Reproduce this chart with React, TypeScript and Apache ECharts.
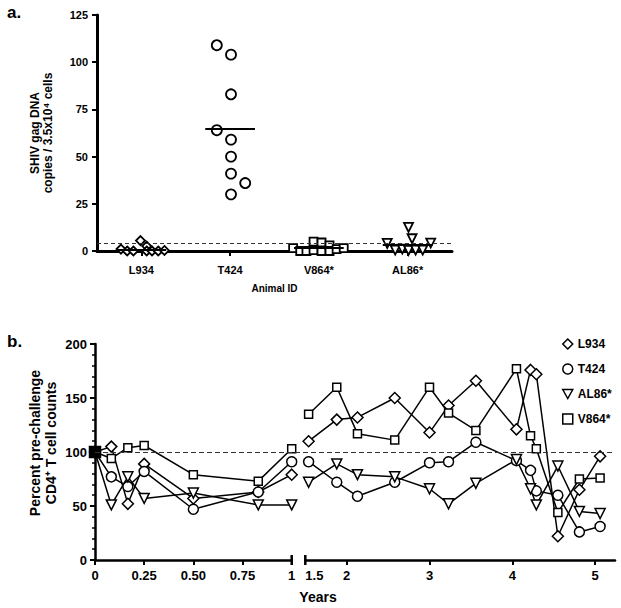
import React, { useEffect, useRef } from 'react';
import * as echarts from 'echarts';

const FONT = '"Liberation Sans", Arial, Helvetica, sans-serif';

// ---------- Panel a: SHIV gag DNA per animal ----------
const animalIds = ['L934', 'T424', 'V864*', 'AL86*'];
const l934Jitter = [-0.23, -0.16, -0.09, -0.01, 0.06, 0.06, 0.12, 0.19, 0.26];
const l934Dna = [1, 0, 0, 5.5, 2.6, 0, 0, 0, 0.3];
const t424Jitter = [-0.15, 0.01, 0.01, -0.15, 0.01, 0.01, 0.01, 0.17, 0.01];
const t424Dna = [109, 104, 83, 64, 59, 50, 41, 36, 30];
const v864Jitter = [-0.29, -0.21, -0.14, -0.06, -0.06, 0.03, 0.03, 0.12, 0.12, 0.2, 0.28];
const v864Dna = [1.5, 0, 0, 5, 0.5, 4.5, 0, 3, 0, 1, 1.5];
const al86Jitter = [-0.23, -0.14, -0.06, 0.01, 0.05, 0.01, 0.09, 0.17, 0.26];
const al86Dna = [4, 0.5, 1, 12.5, 6.5, 0.3, 0.5, 0.5, 4.2];
const groupMeans = [0.8, 65, 1.5, 3.4];
const dnaCutoff = 4;

// ---------- Panel b: CD4 counts over time ----------
const earlyYears = [0, 0.083, 0.167, 0.25, 0.5, 0.83, 1];
const lateYears = [1.54, 1.88, 2.13, 2.58, 3.0, 3.23, 3.56, 4.05, 4.22, 4.29, 4.55, 4.81, 5.06];
const l934Early = [100, 105, 52, 89, 57, 63, 79];
const l934Late = [110, 130, 132, 150, 118, 143, 166, 121, 176, 172, 22, 65, 96];
const t424Early = [100, 77, 68, 82, 47, 63, 91];
const t424Late = [91, 72, 59, 72, 90, 91, 109, 92, 83, 64, 60, 26, 31];
const al86Early = [100, 51, 77, 57, 62, 51, 51];
const al86Late = [72, 89, 79, 77, 66, 52, 71, 93, 66, 51, 87, 45, 43];
const v864Early = [100, 94, 104, 106, 79, 73, 103];
const v864Late = [135, 160, 117, 111, 160, 136, 120, 177, 115, 103, 44, 75, 76];
const earlyTickValues = [0, 0.25, 0.5, 0.75, 1];
const lateLabelValues = [1.5, 2, 3, 4, 5];
const lateTickValues = [2, 3, 4, 5];
const baselinePercent = 100;

const TRI_DOWN = 'path://M0,0L10,0L5,9Z';

const App: React.FC = () => {
  const ref = useRef<HTMLDivElement>(null);

  useEffect(() => {
    if (!ref.current) return;
    const chart = echarts.init(ref.current, undefined, { renderer: 'svg' });

    const axisLineA = { show: true, onZero: false, lineStyle: { color: '#000', width: 3 } };
    const axisLineB = { show: true, onZero: false, lineStyle: { color: '#000', width: 2.5 } };
    const labelA = { color: '#000', fontFamily: FONT, fontWeight: 'bold' as const, fontSize: 11 };
    const labelB = { color: '#000', fontFamily: FONT, fontWeight: 'bold' as const, fontSize: 13 };
    const hollow = (w: number) => ({ color: '#fff', borderColor: '#000', borderWidth: w, opacity: 1 });

    const groupsA = [
      { jit: l934Jitter, val: l934Dna, symbol: 'diamond', size: 9 },
      { jit: t424Jitter, val: t424Dna, symbol: 'circle', size: 10 },
      { jit: v864Jitter, val: v864Dna, symbol: 'rect', size: 8 },
      { jit: al86Jitter, val: al86Dna, symbol: TRI_DOWN, size: 9 },
    ];

    const seriesA: any[] = groupsA.map((g, gi) => ({
      type: 'scatter',
      name: 'a-' + animalIds[gi],
      xAxisIndex: 0,
      yAxisIndex: 0,
      clip: false,
      symbol: g.symbol,
      symbolSize: g.size,
      itemStyle: hollow(1.8),
      data: g.val.map((v, i) => [gi + 1 + g.jit[i], v]),
      markLine: {
        silent: true,
        symbol: 'none',
        label: { show: false },
        data: [
          ...(gi === 0
            ? [{ yAxis: dnaCutoff, lineStyle: { type: [4, 3], color: '#333', width: 1 } }]
            : []),
          [
            { coord: [gi + 1 - 0.28, groupMeans[gi]], lineStyle: { type: 'solid', color: '#000', width: 1.8 } },
            { coord: [gi + 1 + 0.28, groupMeans[gi]] },
          ],
        ],
      },
    }));

    const animalsB = [
      { name: 'L934', symbol: 'diamond', size: 11, early: l934Early, late: l934Late },
      { name: 'T424', symbol: 'circle', size: 10, early: t424Early, late: t424Late },
      { name: 'AL86*', symbol: TRI_DOWN, size: 10, early: al86Early, late: al86Late },
      { name: 'V864*', symbol: 'rect', size: 8, early: v864Early, late: v864Late },
    ];

    const seriesB: any[] = [];
    animalsB.forEach((a, ai) => {
      [
        { axis: 1, years: earlyYears, vals: a.early },
        { axis: 2, years: lateYears, vals: a.late },
      ].forEach((seg) => {
        const isLastEarly = ai === animalsB.length - 1 && seg.axis === 1;
        const s: any = {
          type: 'line',
          name: a.name,
          xAxisIndex: seg.axis,
          yAxisIndex: seg.axis,
          clip: false,
          symbol: a.symbol,
          symbolSize: a.size,
          showAllSymbol: true,
          lineStyle: { color: '#000', width: 1.5 },
          itemStyle: hollow(1.5),
          data: seg.years.map((y, i) =>
            isLastEarly && i === 0
              ? { value: [y, seg.vals[i]], symbolSize: 11, itemStyle: { color: '#000' } }
              : [y, seg.vals[i]]
          ),
        };
        if (ai === 0) {
          s.markPoint = {
            silent: true,
            symbol: 'rect',
            symbolSize: [2.5, 10],
            itemStyle: { color: '#000' },
            label: { show: false },
            data: [{ coord: seg.axis === 1 ? [1, 0] : [1.5, 0] }],
          };
        }
        seriesB.push(s);
      });
    });

    const option: any = {
      animation: false,
      backgroundColor: '#fff',
      textStyle: { fontFamily: FONT },
      grid: [
        { left: 97, top: 15, width: 355, height: 236 },
        { left: 95, top: 344, width: 196.7, height: 216 },
        { left: 305.3, top: 344, width: 309.7, height: 216 },
        { left: 95, top: 344, width: 520, height: 216 },
      ],
      xAxis: [
        {
          type: 'value',
          gridIndex: 0,
          min: 0.5,
          max: 4.5,
          splitLine: { show: false },
          axisLine: axisLineA,
          axisTick: { show: true, customValues: [1, 2, 3, 4], length: 5, lineStyle: { width: 2, color: '#000' } },
          axisLabel: {
            ...labelA,
            margin: 13,
            customValues: [1, 2, 3, 4],
            formatter: (v: number) => animalIds[Math.round(v) - 1] ?? '',
          },
          name: 'Animal ID',
          nameLocation: 'middle',
          nameGap: 32,
          nameTextStyle: { color: '#000', fontFamily: FONT, fontWeight: 'bold', fontSize: 10 },
        },
        {
          type: 'value',
          gridIndex: 1,
          min: 0,
          max: 1,
          splitLine: { show: false },
          axisLine: axisLineB,
          axisTick: { show: true, customValues: earlyTickValues, length: 5, lineStyle: { width: 2, color: '#000' } },
          axisLabel: {
            ...labelB,
            margin: 9,
            customValues: earlyTickValues,
            formatter: (v: number) => (v === 0 ? '0' : v === 1 ? '1' : v.toFixed(2)),
          },
        },
        {
          type: 'value',
          gridIndex: 2,
          min: 1.5,
          max: 5.24,
          splitLine: { show: false },
          axisLine: axisLineB,
          axisTick: { show: true, customValues: lateTickValues, length: 5, lineStyle: { width: 2, color: '#000' } },
          axisLabel: {
            ...labelB,
            margin: 9,
            customValues: lateLabelValues,
            alignMinLabel: 'left',
            formatter: (v: number) => String(v),
          },
        },
        { type: 'value', gridIndex: 3, min: 0, max: 1, show: false },
      ],
      yAxis: [
        {
          type: 'value',
          gridIndex: 0,
          min: 0,
          max: 125,
          interval: 25,
          splitLine: { show: false },
          axisLine: axisLineA,
          axisTick: { show: true, length: 5, lineStyle: { width: 2, color: '#000' } },
          axisLabel: { ...labelA, margin: 9 },
        },
        {
          type: 'value',
          gridIndex: 1,
          min: 0,
          max: 200,
          interval: 50,
          splitLine: { show: false },
          axisLine: axisLineB,
          axisTick: { show: true, length: 5, lineStyle: { width: 2, color: '#000' } },
          minorTick: { show: true, splitNumber: 5, length: 3, lineStyle: { width: 1.5, color: '#000' } },
          axisLabel: { ...labelB, margin: 8 },
        },
        { type: 'value', gridIndex: 2, min: 0, max: 200, interval: 50, show: false },
        { type: 'value', gridIndex: 3, min: 0, max: 200, interval: 50, show: false },
      ],
      legend: {
        orient: 'vertical',
        left: 557,
        top: 333,
        itemWidth: 10,
        itemHeight: 10,
        itemGap: 13,
        selectedMode: false,
        textStyle: { color: '#000', fontFamily: FONT, fontWeight: 'bold', fontSize: 12 },
        itemStyle: { color: '#fff', borderColor: '#000', borderWidth: 1.5 },
        data: [
          { name: 'L934', icon: 'diamond' },
          { name: 'T424', icon: 'circle' },
          { name: 'AL86*', icon: TRI_DOWN },
          { name: 'V864*', icon: 'rect' },
        ],
      },
      graphic: [
        { type: 'text', left: 7, top: 4, style: { text: 'a.', font: `bold 17px ${FONT}`, fill: '#000' } },
        { type: 'text', left: 7, top: 333, style: { text: 'b.', font: `bold 17px ${FONT}`, fill: '#000' } },
        {
          type: 'text',
          x: 41,
          y: 133,
          rotation: Math.PI / 2,
          style: {
            text: 'SHIV gag DNA\ncopies / 3.5x10\u2074 cells',
            font: `bold 12px ${FONT}`,
            lineHeight: 13,
            fill: '#000',
            align: 'center',
            verticalAlign: 'middle',
          },
        },
        {
          type: 'text',
          x: 318,
          y: 597,
          style: { text: 'Years', font: `bold 14px ${FONT}`, fill: '#000', align: 'center', verticalAlign: 'middle' },
        },
        {
          type: 'text',
          x: 43,
          y: 443,
          rotation: Math.PI / 2,
          style: {
            text: 'Percent pre-challenge\nCD4\u207A T cell counts',
            font: `bold 14px ${FONT}`,
            lineHeight: 16,
            fill: '#000',
            align: 'center',
            verticalAlign: 'middle',
          },
        },
      ],
      series: [
        ...seriesA,
        ...seriesB,
        {
          type: 'line',
          name: 'baseline',
          xAxisIndex: 3,
          yAxisIndex: 3,
          data: [],
          silent: true,
          markLine: {
            silent: true,
            symbol: 'none',
            label: { show: false },
            lineStyle: { type: [5, 3], color: '#333', width: 1 },
            data: [{ yAxis: baselinePercent }],
          },
        },
      ],
    };

    chart.setOption(option);
    return () => chart.dispose();
  }, []);

  return (
    <div
      ref={ref}
      style={{ position: 'fixed', left: 0, top: 0, width: 621, height: 608, background: '#fff' }}
    />
  );
};

export default App;
